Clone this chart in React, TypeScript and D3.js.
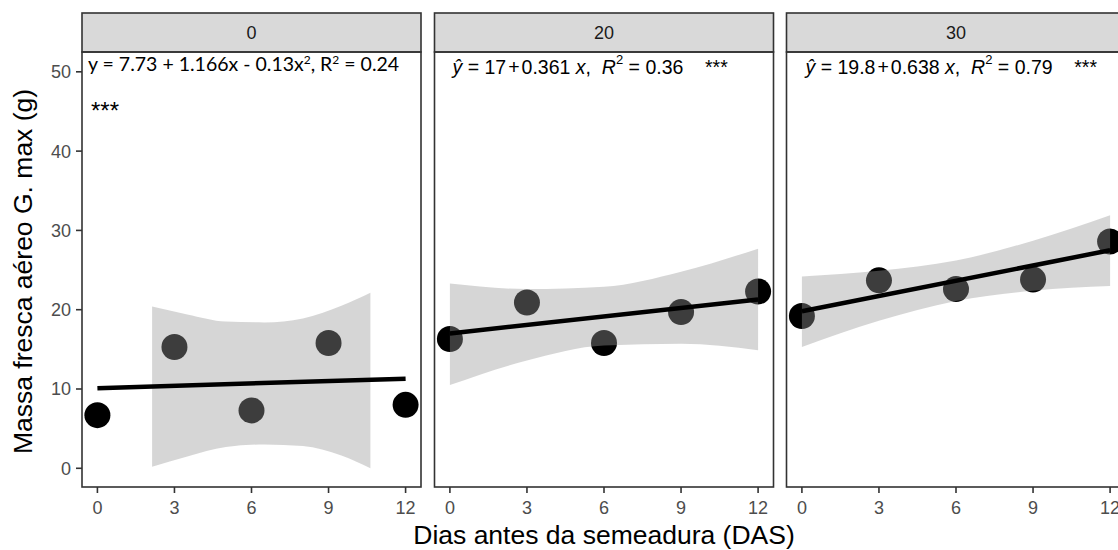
import React from "react";
import * as d3 from "d3";

// Dias antes da semeadura (x) and facet labels
const das = [0, 3, 6, 9, 12];
const facetLabels = ["0", "20", "30"];

// observed fresh mass per facet
const mass0 = [6.7, 15.3, 7.3, 15.8, 8.0];
const mass20 = [16.3, 20.9, 15.8, 19.7, 22.3];
const mass30 = [19.2, 23.7, 22.6, 23.8, 28.6];

// fitted line end points
const fitX = [0, 12];
const fit0 = [10.1, 11.3];
const fit20 = [17.0, 21.3];
const fit30 = [19.8, 27.5];

// confidence band
const band0X = [2.13, 3.5, 5, 6.5, 8, 9.5, 10.63];
const band0Hi = [20.4, 19.4, 18.5, 18.4, 18.9, 20.5, 22.15];
const band0Lo = [0.2, 1.5, 2.7, 3.0, 2.8, 1.6, 0.0];
const band20Hi = [23.3, 22.6, 22.9, 24.8, 27.7];
const band20Lo = [10.5, 13.6, 15.5, 15.7, 14.9];
const band30Hi = [24.2, 24.9, 26.2, 28.7, 31.9];
const band30Lo = [15.3, 18.6, 21.1, 22.4, 23.0];

const yTicks = [0, 10, 20, 30, 40, 50];
const xTicks = [0, 3, 6, 9, 12];

const W = 1118;
const H = 550;
const panelLeft = [82, 434.5, 786.5];
const panelW = 339;
const top = 52;
const bottom = 487;
const stripTop = 13;

const font = "'Liberation Sans', Arial, sans-serif";

const panels = [
  { label: facetLabels[0], y: mass0, fit: fit0, bx: band0X, hi: band0Hi, lo: band0Lo },
  { label: facetLabels[1], y: mass20, fit: fit20, bx: das, hi: band20Hi, lo: band20Lo },
  { label: facetLabels[2], y: mass30, fit: fit30, bx: das, hi: band30Hi, lo: band30Lo },
];

export default function App() {
  const y = d3.scaleLinear().domain([-2.36, 52.5]).range([bottom, top]);

  return (
    <svg
      width={W}
      height={H}
      style={{ position: "absolute", left: 0, top: 0, background: "#fff" }}
    >
      {panels.map((p, i) => {
        const x = d3
          .scaleLinear()
          .domain([-0.6, 12.6])
          .range([panelLeft[i], panelLeft[i] + panelW]);
        const area = d3
          .area<number>()
          .x((_, j) => x(p.bx[j]))
          .y0((_, j) => y(p.lo[j]))
          .y1((_, j) => y(p.hi[j]))
          .curve(d3.curveMonotoneX);
        const line = d3
          .line<number>()
          .x((_, j) => x(fitX[j]))
          .y((d) => y(d));
        return (
          <g key={p.label}>
            {/* points, then band over them, then fit line */}
            {p.y.map((v, j) => (
              <circle key={j} cx={x(das[j])} cy={y(v)} r={13} fill="#000" />
            ))}
            <path d={area(p.hi) || ""} fill="#999999" fillOpacity={0.4} />
            <path
              d={line(p.fit) || ""}
              fill="none"
              stroke="#000"
              strokeWidth={4.5}
            />
            {/* strip */}
            <rect
              x={panelLeft[i]}
              y={stripTop}
              width={panelW}
              height={top - stripTop}
              fill="#d9d9d9"
              stroke="#333"
              strokeWidth={1.6}
            />
            <text
              x={panelLeft[i] + panelW / 2}
              y={(stripTop + top) / 2 + 6.5}
              textAnchor="middle"
              fontFamily={font}
              fontSize={18}
              fill="#1a1a1a"
            >
              {p.label}
            </text>
            {/* panel border */}
            <rect
              x={panelLeft[i]}
              y={top}
              width={panelW}
              height={bottom - top}
              fill="none"
              stroke="#333"
              strokeWidth={1.6}
            />
            {/* x axis ticks */}
            {xTicks.map((t) => (
              <g key={t}>
                <line
                  x1={x(t)}
                  x2={x(t)}
                  y1={bottom}
                  y2={bottom + 6}
                  stroke="#333"
                  strokeWidth={1.6}
                />
                <text
                  x={x(t)}
                  y={bottom + 27}
                  textAnchor="middle"
                  fontFamily={font}
                  fontSize={18}
                  fill="#4d4d4d"
                >
                  {t}
                </text>
              </g>
            ))}
          </g>
        );
      })}

      {/* y axis on first panel */}
      {yTicks.map((t) => (
        <g key={t}>
          <line
            x1={panelLeft[0] - 6}
            x2={panelLeft[0]}
            y1={y(t)}
            y2={y(t)}
            stroke="#333"
            strokeWidth={1.6}
          />
          <text
            x={panelLeft[0] - 11}
            y={y(t) + 6.5}
            textAnchor="end"
            fontFamily={font}
            fontSize={18}
            fill="#4d4d4d"
          >
            {t}
          </text>
        </g>
      ))}

      {/* equation box of panel 0 */}
      <rect x={86} y={53} width={300} height={22} fill="#fff" />
      <text x={88} y={71} fontFamily="Lato, 'Open Sans', sans-serif" fontSize={19.5} fill="#000">
        y = 7.73 + 1.166x - 0.13x
        <tspan dy={-7} fontSize={12}>2</tspan>
        <tspan dy={7}>, R</tspan>
        <tspan dy={-7} fontSize={12}>2</tspan>
        <tspan dy={7}> = 0.24</tspan>
      </text>
      <text x={91} y={119} fontFamily={font} fontSize={24} fill="#000">
        ***
      </text>

      {/* equations panels 20 and 30 */}
      {[
        { x0: panelLeft[1] + 18, a: "17", b: "0.361", r2: "0.36" },
        { x0: panelLeft[2] + 19, a: "19.8", b: "0.638", r2: "0.79" },
      ].map((e) => (
        <text
          key={e.a}
          x={e.x0}
          y={74}
          fontFamily={font}
          fontSize={19.5}
          fill="#000"
          xmlSpace="preserve"
        >
          <tspan fontStyle="italic">ŷ</tspan>
          <tspan> = {e.a}</tspan>
          <tspan dx={2}>+</tspan>
          <tspan dx={2}>{e.b} </tspan>
          <tspan fontStyle="italic">x</tspan>
          <tspan>,  </tspan>
          <tspan fontStyle="italic">R</tspan>
          <tspan dy={-10} fontSize={13}>2</tspan>
          <tspan dy={10}> = {e.r2}    ***</tspan>
        </text>
      ))}

      {/* axis titles */}
      <text
        x={604}
        y={544}
        textAnchor="middle"
        fontFamily={font}
        fontSize={26.5}
        fill="#000"
      >
        Dias antes da semeadura (DAS)
      </text>
      <text
        transform={`translate(32,${(top + bottom) / 2 + 2}) rotate(-90)`}
        textAnchor="middle"
        fontFamily={font}
        fontSize={26.5}
        fill="#000"
      >
        Massa fresca aéreo G. max (g)
      </text>
    </svg>
  );
}
